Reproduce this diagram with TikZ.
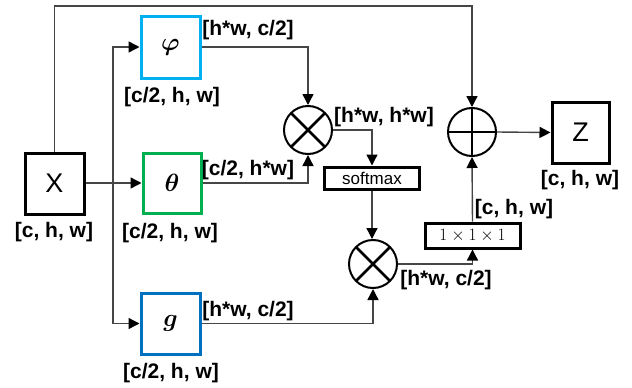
\documentclass[tikz,border=0pt]{standalone}
\usepackage{fontspec}
\setmainfont{Liberation Sans}
\usepackage{amsmath,bm}
\usetikzlibrary{arrows.meta}
\definecolor{phic}{RGB}{0,176,240}
\definecolor{thc}{RGB}{0,176,80}
\definecolor{gc}{RGB}{0,112,192}
\definecolor{linec}{RGB}{70,70,70}
\begin{document}
\begin{tikzpicture}[x=1pt,y=-1pt,
  box/.style={draw,line width=3pt,inner sep=0pt},
  lbl/.style={font=\fontsize{21}{24}\selectfont\bfseries,inner sep=0pt},
  conn/.style={draw=linec,line width=1.4pt},
  arr/.style={conn,-{Triangle[length=11pt,width=11pt,color=black]}},
  mul/.style={circle,draw,line width=2pt,minimum size=48pt,inner sep=0pt,
    path picture={\draw[line width=2.6pt] (path picture bounding box.north west)--(path picture bounding box.south east)
      (path picture bounding box.north east)--(path picture bounding box.south west);}},
  add/.style={circle,draw,line width=2pt,minimum size=48pt,inner sep=0pt,
    path picture={\draw[line width=2.6pt] (path picture bounding box.north)--(path picture bounding box.south)
      (path picture bounding box.east)--(path picture bounding box.west);}},
]
\useasboundingbox (0,0) rectangle (632,388);
% nodes
\node[box,minimum width=59pt,minimum height=61pt,font=\fontsize{27}{30}\selectfont] (X) at (54.5,183.5) {X};
\node[lbl] (Xl) at (54,232) {[c, h, w]};
\node[box,draw=phic,minimum width=59pt,minimum height=62pt,font=\fontsize{30}{32}\selectfont] (phi) at (170.5,47) {$\bm{\varphi}$};
\node[lbl] (phil) at (172,97) {[c/2, h, w]};
\node[box,draw=thc,minimum width=58pt,minimum height=60pt,font=\fontsize{30}{32}\selectfont] (theta) at (172,183) {$\bm{\theta}$};
\node[lbl] (thetal) at (170,233) {[c/2, h, w]};
\node[box,draw=gc,minimum width=59pt,minimum height=61pt,font=\fontsize{30}{32}\selectfont] (g) at (170.5,323.5) {$\bm{g}$};
\node[lbl] (gl) at (171,373) {[c/2, h, w]};
\node[mul] (m1) at (308,130) {};
\node[box,minimum width=95pt,minimum height=22pt,font=\fontsize{17}{19}\selectfont] (sm) at (372,178) {softmax};
\node[mul] (m2) at (373,264) {};
\node[box,minimum width=95pt,minimum height=25pt,font=\fontsize{16}{18}\selectfont] (c1) at (472.5,235.5) {$1\times1\times1$};
\node[add] (plus) at (472,132) {};
\node[box,minimum width=57pt,minimum height=61pt,font=\fontsize{27}{30}\selectfont] (Z) at (580.5,132.5) {Z};
\node[lbl] (Zl) at (580,180) {[c, h, w]};
% edge labels
\node[lbl] (l1) at (248,30) {[h*w, c/2]};
\node[lbl] (l2) at (248,170) {[c/2, h*w]};
\node[lbl] (l3) at (384,117) {[h*w, h*w]};
\node[lbl] (l4) at (248,311) {[h*w, c/2]};
\node[lbl] (l5) at (446,280) {[h*w, c/2]};
\node[lbl] (l6) at (514,209) {[c, h, w]};
% connectors
\coordinate (br) at (113,183);
\coordinate (topr) at (472,6);
\draw[arr] (X.east |- br) -- (theta.west |- br);
\draw[arr] (br) |- (phi.west);
\draw[arr] (br) |- (g.west);
\draw[arr] (X.north) |- (topr) -- (plus.north);
\draw[arr] (phi.east) -| (m1.north);
\draw[arr] (theta.east) -| (m1.south);
\draw[arr] (m1.east) -| (sm.north);
\draw[arr] (sm.south) -- (sm.south |- m2.north);
\draw[arr] (g.east) -| (m2.south);
\draw[arr] (m2.east) -| (c1.south);
\draw[arr] (c1.north) -- (plus.south);
\draw[arr] (plus.east) -- (Z.west);
\end{tikzpicture}
\end{document}
